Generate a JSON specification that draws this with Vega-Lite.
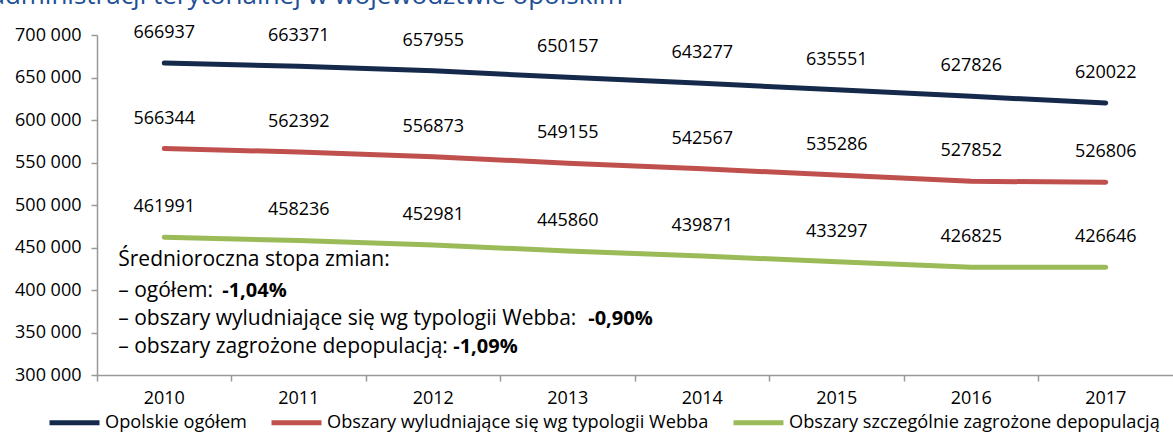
{
  "$schema": "https://vega.github.io/schema/vega-lite/v6.json",
  "width": 1076,
  "height": 340,
  "autosize": {"type": "none"},
  "padding": {"left": 97, "top": 35, "right": 0, "bottom": 58},
  "background": "white",
  "title": {
    "text": "administracji terytorialnej w województwie opolskim",
    "anchor": "end",
    "frame": "group",
    "orient": "top",
    "baseline": "alphabetic",
    "offset": 0,
    "dx": -550,
    "dy": 6,
    "font": "Open Sans",
    "fontSize": 26,
    "fontWeight": "normal",
    "color": "#1f4f96"
  },
  "config": {
    "view": {"stroke": null},
    "font": "Open Sans"
  },
  "data": {
    "values": [
      {"year": "2010", "series": "Opolskie ogółem", "value": 666937},
      {"year": "2011", "series": "Opolskie ogółem", "value": 663371},
      {"year": "2012", "series": "Opolskie ogółem", "value": 657955},
      {"year": "2013", "series": "Opolskie ogółem", "value": 650157},
      {"year": "2014", "series": "Opolskie ogółem", "value": 643277},
      {"year": "2015", "series": "Opolskie ogółem", "value": 635551},
      {"year": "2016", "series": "Opolskie ogółem", "value": 627826},
      {"year": "2017", "series": "Opolskie ogółem", "value": 620022},
      {"year": "2010", "series": "Obszary wyludniające się wg typologii Webba", "value": 566344},
      {"year": "2011", "series": "Obszary wyludniające się wg typologii Webba", "value": 562392},
      {"year": "2012", "series": "Obszary wyludniające się wg typologii Webba", "value": 556873},
      {"year": "2013", "series": "Obszary wyludniające się wg typologii Webba", "value": 549155},
      {"year": "2014", "series": "Obszary wyludniające się wg typologii Webba", "value": 542567},
      {"year": "2015", "series": "Obszary wyludniające się wg typologii Webba", "value": 535286},
      {"year": "2016", "series": "Obszary wyludniające się wg typologii Webba", "value": 527852},
      {"year": "2017", "series": "Obszary wyludniające się wg typologii Webba", "value": 526806},
      {"year": "2010", "series": "Obszary szczególnie zagrożone depopulacją", "value": 461991},
      {"year": "2011", "series": "Obszary szczególnie zagrożone depopulacją", "value": 458236},
      {"year": "2012", "series": "Obszary szczególnie zagrożone depopulacją", "value": 452981},
      {"year": "2013", "series": "Obszary szczególnie zagrożone depopulacją", "value": 445860},
      {"year": "2014", "series": "Obszary szczególnie zagrożone depopulacją", "value": 439871},
      {"year": "2015", "series": "Obszary szczególnie zagrożone depopulacją", "value": 433297},
      {"year": "2016", "series": "Obszary szczególnie zagrożone depopulacją", "value": 426825},
      {"year": "2017", "series": "Obszary szczególnie zagrożone depopulacją", "value": 426646}
    ]
  },
  "encoding": {
    "x": {
      "field": "year",
      "type": "ordinal",
      "scale": {"type": "band", "paddingInner": 0, "paddingOuter": 0},
      "axis": {
        "title": null,
        "labelAngle": 0,
        "bandPosition": 0,
        "labelFont": "Open Sans",
        "labelFontSize": 18,
        "labelColor": "#000000",
        "labelPadding": 8,
        "domainColor": "#999999",
        "domainWidth": 1.5,
        "tickColor": "#999999",
        "tickWidth": 1.5,
        "tickSize": 6,
        "grid": false
      }
    },
    "y": {
      "field": "value",
      "type": "quantitative",
      "scale": {"domain": [300000, 700000], "nice": false, "zero": false},
      "axis": {
        "title": null,
        "values": [300000, 350000, 400000, 450000, 500000, 550000, 600000, 650000, 700000],
        "labelExpr": "replace(format(datum.value, ','), regexp(',', 'g'), ' ')",
        "labelFont": "Open Sans",
        "labelFontSize": 18,
        "labelColor": "#000000",
        "labelPadding": 10,
        "domainColor": "#999999",
        "domainWidth": 1.5,
        "tickColor": "#999999",
        "tickWidth": 1.5,
        "tickSize": 6,
        "grid": false
      }
    }
  },
  "layer": [
    {
      "mark": {"type": "line", "strokeWidth": 5, "strokeCap": "round", "strokeJoin": "round"},
      "encoding": {
        "color": {
          "field": "series",
          "type": "nominal",
          "scale": {
            "domain": ["Opolskie ogółem", "Obszary wyludniające się wg typologii Webba", "Obszary szczególnie zagrożone depopulacją"],
            "range": ["#15294a", "#c0504d", "#9bbb59"]
          },
          "legend": {
            "title": null,
            "orient": "none",
            "direction": "horizontal",
            "legendX": -50,
            "legendY": 360,
            "symbolType": "stroke",
            "symbolSize": 2500,
            "symbolStrokeWidth": 5,
            "labelFont": "Open Sans",
            "labelFontSize": 18.2,
            "labelColor": "#000000",
            "labelOffset": 3,
            "columnPadding": 14,
            "labelLimit": 500
          }
        }
      }
    },
    {
      "mark": {"type": "text", "font": "Open Sans", "fontSize": 18, "color": "#000000", "baseline": "middle", "dy": -30},
      "encoding": {
        "text": {"field": "value", "type": "quantitative", "format": "d"}
      }
    },
    {
      "data": {
        "values": [
          {"year": "2010", "value": 435000, "note": "Średnioroczna stopa zmian:"},
          {"year": "2010", "value": 399000, "note": "– ogółem: "},
          {"year": "2010", "value": 366000, "note": "– obszary wyludniające się wg typologii Webba: "},
          {"year": "2010", "value": 333000, "note": "– obszary zagrożone depopulacją: "}
        ]
      },
      "mark": {"type": "text", "font": "Open Sans", "fontSize": 21, "color": "#000000", "align": "left", "baseline": "middle", "dx": -46},
      "encoding": {"text": {"field": "note", "type": "nominal"}}
    },
    {
      "data": {"values": [{"year": "2010", "value": 399000, "note": "-1,04%"}]},
      "mark": {"type": "text", "font": "Open Sans", "fontSize": 20, "fontWeight": "bold", "color": "#000000", "align": "left", "baseline": "middle", "dx": 58},
      "encoding": {"text": {"field": "note", "type": "nominal"}}
    },
    {
      "data": {"values": [{"year": "2010", "value": 366000, "note": "-0,90%"}]},
      "mark": {"type": "text", "font": "Open Sans", "fontSize": 20, "fontWeight": "bold", "color": "#000000", "align": "left", "baseline": "middle", "dx": 424},
      "encoding": {"text": {"field": "note", "type": "nominal"}}
    },
    {
      "data": {"values": [{"year": "2010", "value": 333000, "note": "-1,09%"}]},
      "mark": {"type": "text", "font": "Open Sans", "fontSize": 20, "fontWeight": "bold", "color": "#000000", "align": "left", "baseline": "middle", "dx": 289},
      "encoding": {"text": {"field": "note", "type": "nominal"}}
    }
  ]
}
